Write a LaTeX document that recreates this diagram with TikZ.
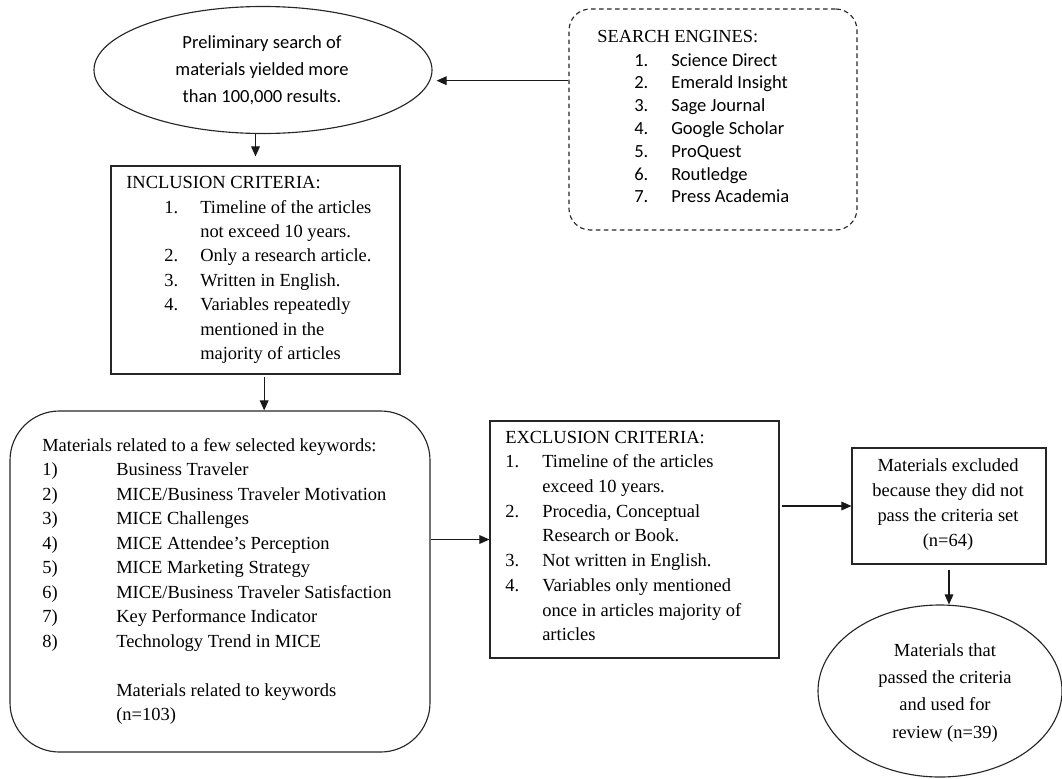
\documentclass[tikz,border=0pt]{standalone}
\usepackage{fontspec}
\setmainfont{Liberation Serif}
\newfontfamily\calib{Carlito}
\usetikzlibrary{shapes.geometric,arrows.meta}
\newcommand\fs[2]{\fontsize{#1}{#2}\selectfont}
\def\u{0.75pt}
\begin{document}
\begin{tikzpicture}[x=0.75pt,y=-0.75pt,
  box/.style={draw=black!85, line width=0.85pt, inner sep=0pt},
  txt/.style={inner sep=0pt, anchor=base west, text=black},
  ctxt/.style={inner sep=0pt, anchor=base, text=black},
  arr/.style={draw=black!90, line width=0.8pt, -{Triangle[length=7.5pt,width=6.5pt]}}]
\useasboundingbox (0,0) rectangle (1062,778);

% shapes
\node[box, ellipse, minimum width=338*\u, minimum height=127*\u] (e1) at (263,70) {};
\node[box, rounded corners=16pt, dash pattern=on 3.5pt off 2.5pt, minimum width=288*\u, minimum height=221*\u] (se) at (713,119.5) {};
\node[box, minimum width=289*\u, minimum height=208*\u] (inc) at (255.5,270) {};
\node[box, rounded corners=37pt, minimum width=420*\u, minimum height=341*\u] (kw) at (220,581.5) {};
\node[box, minimum width=289*\u, minimum height=237*\u] (exc) at (634.5,539.5) {};
\node[box, minimum width=194*\u, minimum height=116*\u] (excl) at (949,506) {};
\node[box, ellipse, minimum width=244*\u, minimum height=172*\u] (e2) at (940,691) {};

% texts
\node[ctxt, font=\calib\fs{13.9}{20.6}] (t1) at (262,48) {\begin{tabular}[t]{@{}c@{}}Preliminary search of\\materials yielded more\\than 100,000 results.\end{tabular}};

\node[txt, font=\fs{13.8}{17}] (tse) at (597,42) {SEARCH ENGINES:};
\node[txt, font=\calib\fs{13.9}{17.1}] (lse) at (634,66) {\begin{tabular}[t]{@{}p{27.75pt}@{}l@{}}
1. & Science Direct\\
2. & Emerald Insight\\
3. & Sage Journal\\
4. & Google Scholar\\
5. & ProQuest\\
6. & Routledge\\
7. & Press Academia
\end{tabular}};

\node[txt, font=\fs{13.85}{18.3}] (tinc) at (126,188) {INCLUSION CRITERIA:};
\node[txt, font=\fs{13.85}{18.3}] (linc) at (164,213) {\begin{tabular}[t]{@{}p{27pt}@{}l@{}}
1. & Timeline of the articles\\
   & not exceed 10 years.\\
2. & Only a research article.\\
3. & Written in English.\\
4. & Variables repeatedly\\
   & mentioned in the\\
   & majority of articles
\end{tabular}};

\node[txt, font=\fs{13.85}{18.4}] (lkw) at (42,451) {\begin{tabular}[t]{@{}p{55.5pt}@{}l@{}}
\multicolumn{2}{@{}l@{}}{Materials related to a few selected keywords:}\\
1) & Business Traveler\\
2) & MICE/Business Traveler Motivation\\
3) & MICE Challenges\\
4) & MICE Attendee’s Perception\\
5) & MICE Marketing Strategy\\
6) & MICE/Business Traveler Satisfaction\\
7) & Key Performance Indicator\\
8) & Technology Trend in MICE\\
   & \\
   & Materials related to keywords\\
   & (n=103)
\end{tabular}};

\node[txt, font=\fs{13.85}{18.56}] (lexc) at (505,443) {\begin{tabular}[t]{@{}p{27.75pt}@{}l@{}}
\multicolumn{2}{@{}l@{}}{EXCLUSION CRITERIA:}\\
1. & Timeline of the articles\\
   & exceed 10 years.\\
2. & Procedia, Conceptual\\
   & Research or Book.\\
3. & Not written in English.\\
4. & Variables only mentioned\\
   & once in articles majority of\\
   & articles
\end{tabular}};

\node[ctxt, font=\fs{13.85}{18.75}] (texcl) at (948,471) {\begin{tabular}[t]{@{}c@{}}Materials excluded\\because they did not\\pass the criteria set\\(n=64)\end{tabular}};

\node[ctxt, font=\fs{13.85}{20.5}] (te2) at (945,656) {\begin{tabular}[t]{@{}c@{}}Materials that\\passed the criteria\\and used for\\review (n=39)\end{tabular}};

% connectors
\draw[arr] ([yshift=-8pt]se.west |- e1.east) -- ([xshift=3pt,yshift=-8pt]e1.east);
\draw[arr, shorten >=6.75pt] (e1.south -| inc.north) -- (inc.north);
\coordinate (s3) at ([xshift=6.5pt]inc.south);
\draw[arr, shorten <=2pt] (s3) -- (s3 |- kw.north);
\draw[arr] (kw.east |- exc.west) -- (exc.west);
\draw[arr, shorten <=2pt] (exc.east |- excl.west) -- (excl.west);
\draw[arr, shorten <=4pt] (excl.south) -- (excl.south |- e2.north);
\end{tikzpicture}
\end{document}
